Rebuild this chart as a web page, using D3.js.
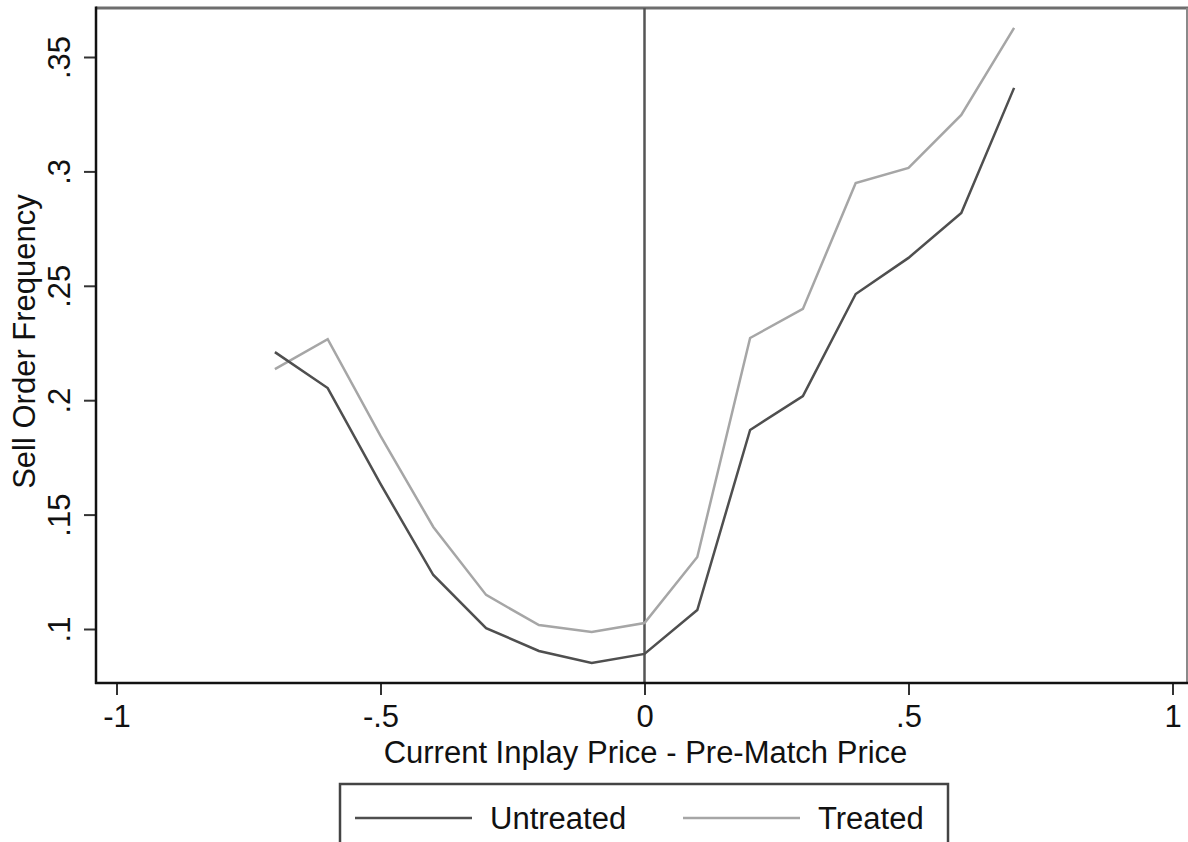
<!DOCTYPE html>
<html>
<head>
<meta charset="utf-8">
<script src="https://cdn.jsdelivr.net/npm/d3@7"></script>
<style>
  body { margin: 0; background: #fff; }
  svg { display: block; font-family: "Liberation Sans", Arial, Helvetica, sans-serif; }
</style>
</head>
<body>
<div id="chart"></div>
<script>
// price difference bins (x) and sell order frequency per group
var priceDiff = [-0.7, -0.6, -0.5, -0.4, -0.3, -0.2, -0.1, 0, 0.1, 0.2, 0.3, 0.4, 0.5, 0.6, 0.7];
var untreated = [0.221, 0.2053, 0.1634, 0.1236, 0.1004, 0.0904, 0.0851, 0.0891, 0.1083, 0.187, 0.2018, 0.2464, 0.2622, 0.2818, 0.3365];
var treated   = [0.2136, 0.2267, 0.1844, 0.1446, 0.1149, 0.1017, 0.0987, 0.1026, 0.1315, 0.2272, 0.2399, 0.2949, 0.3015, 0.3247, 0.3627];

var xTicks = [-1, -0.5, 0, 0.5, 1];
var yTicks = [0.1, 0.15, 0.2, 0.25, 0.3, 0.35];
var seriesNames = ["Untreated", "Treated"];

var width = 1188, height = 842;
// plot box edges (named so they don't clash with window.top)
var boxLeft = 96, boxTop = 8, boxRight = 1187, boxBottom = 683;

var svg = d3.select("#chart").append("svg")
    .attr("width", width)
    .attr("height", height);

var x = d3.scaleLinear().domain([-1, 1]).range([116.5, 1172.5]);
var y = d3.scaleLinear().domain([0.1, 0.35]).range([629, 57]);

// stata style number labels: drop the leading zero
function fmt(v) {
    var s = String(+v.toFixed(2));
    return s.replace(/^(-?)0\./, "$1.");
}

// box edges (top and right are lighter)
svg.append("line")
    .attr("x1", boxLeft).attr("x2", width).attr("y1", boxTop).attr("y2", boxTop)
    .style("stroke", "#6e6e6e").style("stroke-width", 3);
svg.append("line")
    .attr("x1", boxRight).attr("x2", boxRight).attr("y1", boxTop).attr("y2", boxBottom)
    .style("stroke", "#8a8a8a").style("stroke-width", 2);

// vertical reference line at zero
svg.append("line")
    .attr("x1", x(0)).attr("x2", x(0)).attr("y1", boxTop).attr("y2", boxBottom)
    .style("stroke", "#555").style("stroke-width", 2.5);

// series lines
var line = d3.line()
    .x(function(d) { return x(d[0]); })
    .y(function(d) { return y(d[1]); });

svg.append("path")
    .datum(priceDiff.map(function(p, i) { return [p, treated[i]]; }))
    .attr("d", line)
    .style("fill", "none").style("stroke", "#a6a6a6").style("stroke-width", 2.5);

svg.append("path")
    .datum(priceDiff.map(function(p, i) { return [p, untreated[i]]; }))
    .attr("d", line)
    .style("fill", "none").style("stroke", "#4f4f4f").style("stroke-width", 2.5);

// axes
var yAxis = svg.append("g")
    .attr("transform", "translate(" + boxLeft + ",0)")
    .call(d3.axisLeft(y).tickValues(yTicks).tickFormat(fmt).tickSize(12).tickSizeOuter(0));

yAxis.select(".domain").remove();
yAxis.selectAll(".tick line").style("stroke", "#333").style("stroke-width", 2);
yAxis.selectAll(".tick text")
    .attr("transform", "rotate(-90)")
    .attr("x", 0).attr("y", -26).attr("dy", 0)
    .style("text-anchor", "middle")
    .style("font-size", "31px")
    .style("font-family", "'Liberation Sans', Arial, sans-serif")
    .style("fill", "#111");

var xAxis = svg.append("g")
    .attr("transform", "translate(0," + boxBottom + ")")
    .call(d3.axisBottom(x).tickValues(xTicks).tickFormat(fmt).tickSize(12).tickSizeOuter(0));

xAxis.select(".domain").remove();
xAxis.selectAll(".tick line").style("stroke", "#333").style("stroke-width", 2);
xAxis.selectAll(".tick text")
    .attr("y", 44).attr("dy", 0)
    .style("font-size", "31px")
    .style("font-family", "'Liberation Sans', Arial, sans-serif")
    .style("fill", "#111");

// axis lines drawn across the whole box
svg.append("line")
    .attr("x1", boxLeft).attr("x2", boxLeft).attr("y1", boxTop - 1.5).attr("y2", boxBottom + 1)
    .style("stroke", "#111").style("stroke-width", 2.5);
svg.append("line")
    .attr("x1", boxLeft - 1).attr("x2", width).attr("y1", boxBottom).attr("y2", boxBottom)
    .style("stroke", "#111").style("stroke-width", 2.5);

// axis titles
svg.append("text")
    .attr("x", (boxLeft + boxRight) / 2 + 4)
    .attr("y", 763)
    .style("text-anchor", "middle")
    .style("font-size", "31px")
    .style("fill", "#111")
    .text("Current Inplay Price - Pre-Match Price");

svg.append("text")
    .attr("transform", "translate(35," + ((boxTop + boxBottom) / 2 - 4) + ") rotate(-90)")
    .style("text-anchor", "middle")
    .style("font-size", "31px")
    .style("fill", "#111")
    .text("Sell Order Frequency");

// legend
var legend = svg.append("g");
legend.append("rect")
    .attr("x", 340).attr("y", 784)
    .attr("width", 608).attr("height", 80)
    .style("fill", "#fff").style("stroke", "#444").style("stroke-width", 2.5);

var legendColors = ["#4f4f4f", "#a6a6a6"];
var legendX = [355, 683];

seriesNames.forEach(function(name, i) {
    legend.append("line")
        .attr("x1", legendX[i]).attr("x2", legendX[i] + 117)
        .attr("y1", 818).attr("y2", 818)
        .style("stroke", legendColors[i]).style("stroke-width", 2.5);
    legend.append("text")
        .attr("x", legendX[i] + 135)
        .attr("y", 829)
        .style("font-size", "31px")
        .style("fill", "#111")
        .text(name);
});
</script>
</body>
</html>
